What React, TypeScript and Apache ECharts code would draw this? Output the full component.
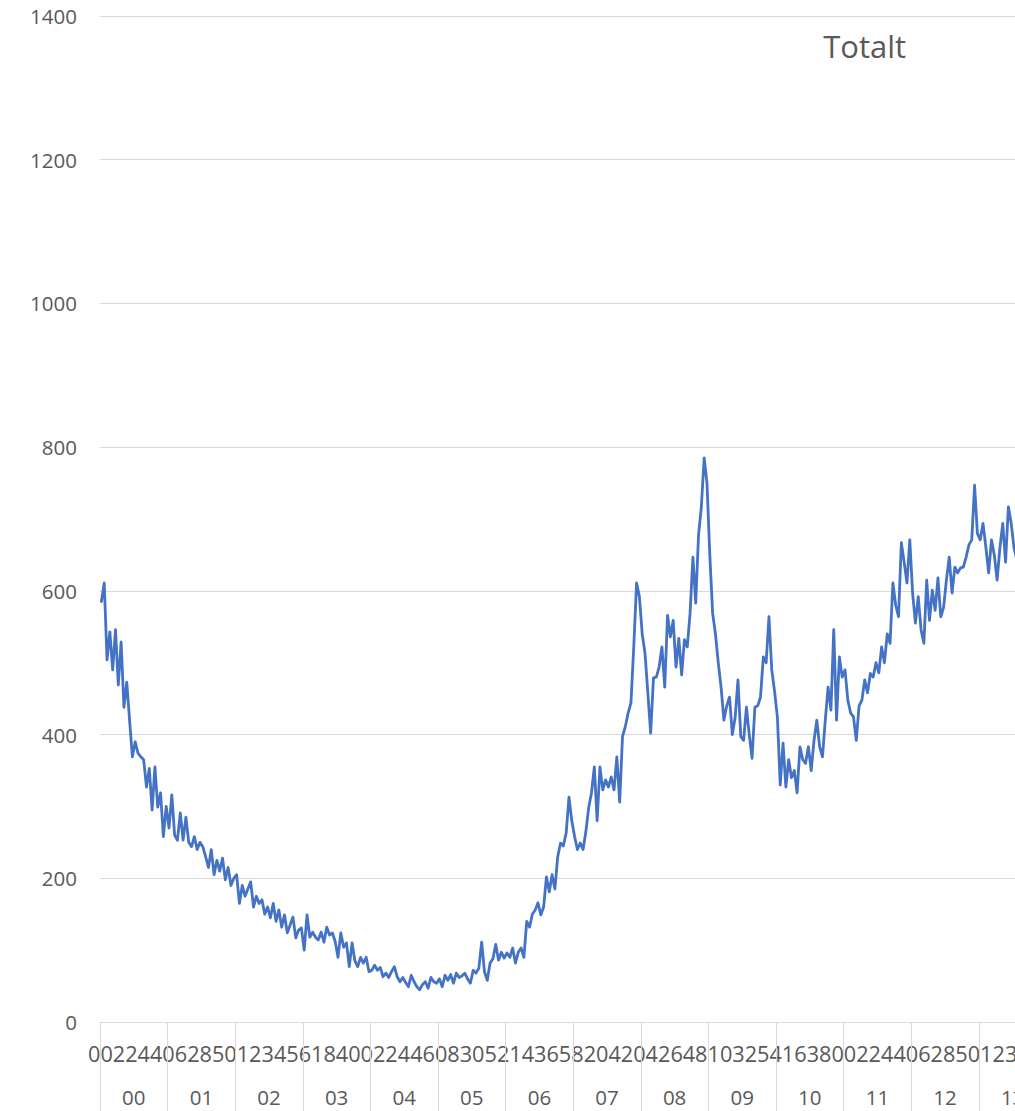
import React, { useEffect, useRef } from "react";
import * as echarts from "echarts";

// Year groups shown on the outer level of the category axis
const yearLabels = ["00", "01", "02", "03", "04", "05", "06", "07", "08", "09", "10", "11", "12", "13"];
const PER_YEAR = 24;

// Overlapping inner tick labels as they appear
const innerTickChunks = [
  "002244", "062850", "123456", "184002", "244608", "305214", "365820",
  "420426", "481032", "541638", "002244", "062850", "123",
];

// Series values per year
const y00 = [585, 611, 504, 543, 490, 546, 469, 529, 438, 473, 420, 369, 390, 374, 369, 365, 327, 353, 295, 355, 299, 319, 258, 300];
const y01 = [270, 316, 260, 253, 291, 253, 285, 250, 244, 258, 240, 250, 244, 230, 215, 240, 205, 225, 210, 228, 198, 215, 190, 200];
const y02 = [205, 165, 190, 175, 185, 195, 160, 175, 165, 170, 150, 160, 145, 165, 140, 156, 132, 149, 124, 135, 146, 117, 128, 131];
const y03 = [100, 149, 118, 125, 118, 114, 125, 111, 132, 121, 124, 112, 90, 124, 104, 110, 77, 110, 85, 77, 90, 82, 90, 70];
const y04 = [72, 79, 72, 76, 63, 68, 62, 70, 77, 63, 56, 62, 55, 49, 65, 56, 49, 45, 52, 56, 47, 62, 56, 54];
const y05 = [60, 49, 65, 58, 66, 54, 68, 62, 64, 68, 60, 54, 72, 68, 75, 111, 70, 58, 82, 88, 108, 86, 97, 89];
const y06 = [96, 90, 103, 82, 97, 103, 90, 140, 132, 150, 156, 166, 149, 160, 202, 181, 205, 185, 230, 249, 245, 263, 313, 280];
const y07 = [258, 240, 249, 240, 265, 298, 319, 355, 280, 355, 323, 337, 327, 341, 323, 369, 306, 397, 411, 430, 444, 522, 611, 592];
const y08 = [540, 513, 458, 402, 479, 480, 494, 522, 466, 566, 536, 559, 494, 534, 483, 532, 522, 569, 647, 583, 678, 717, 785, 750];
const y09 = [650, 569, 540, 500, 466, 420, 440, 452, 400, 424, 476, 397, 392, 438, 400, 367, 438, 440, 452, 508, 500, 564, 490, 460];
const y10 = [424, 330, 388, 327, 365, 340, 350, 319, 383, 365, 360, 383, 350, 392, 420, 383, 369, 420, 466, 434, 546, 420, 508, 480];
const y11 = [490, 448, 430, 425, 392, 440, 448, 476, 458, 485, 480, 500, 486, 522, 500, 540, 527, 611, 580, 564, 667, 640, 611, 671];
const y12 = [597, 555, 592, 546, 527, 615, 559, 601, 573, 618, 564, 577, 615, 647, 597, 633, 625, 632, 633, 647, 664, 671, 747, 680];
const y13 = [671, 694, 661, 625, 671, 650, 615, 660, 694, 640, 717, 694, 660, 643];

const yTicks = { min: 0, max: 1400, interval: 200 };
const title = "Totalt";

const TEXT = "#595959";
const GRID = "#d9d9d9";
const LINE = "#4472c4";
const FONT = '"Open Sans"';

export default function App() {
  const ref = useRef<HTMLDivElement>(null);

  useEffect(() => {
    if (!ref.current) return;
    const chart = echarts.init(ref.current, undefined, { renderer: "svg" });

    const values = [...y00, ...y01, ...y02, ...y03, ...y04, ...y05, ...y06, ...y07, ...y08, ...y09, ...y10, ...y11, ...y12, ...y13];
    const categories: string[] = [];
    yearLabels.forEach((yy) => {
      for (let j = 0; j < PER_YEAR; j++) categories.push(yy + "-" + j);
    });

    const charW = 12.39;
    const innerTexts = innerTickChunks.map((chunk, k) => ({
      type: "text",
      x: 88 + k * 6 * charW,
      y: 1053,
      style: {
        text: chunk,
        fontSize: 21.7,
        fontFamily: FONT,
        fill: TEXT,
        textAlign: "left",
        textVerticalAlign: "middle",
        align: "left",
        verticalAlign: "middle",
      },
    }));

    chart.setOption({
      animation: false,
      grid: { left: 100, right: 53.6, top: 16, bottom: 89 },
      xAxis: [
        {
          type: "category",
          data: categories,
          boundaryGap: true,
          axisLine: { show: true, lineStyle: { color: GRID, width: 1 } },
          axisTick: { show: false },
          axisLabel: { show: false },
          splitLine: { show: false },
        },
        {
          type: "category",
          data: yearLabels,
          boundaryGap: true,
          position: "bottom",
          axisLine: { show: false },
          axisTick: { show: true, interval: 0, length: 89, lineStyle: { color: GRID, width: 1 } },
          axisLabel: { show: true, interval: 0, margin: 64, color: TEXT, fontSize: 20.5, fontFamily: FONT },
          splitLine: { show: false },
        },
      ],
      yAxis: {
        type: "value",
        min: yTicks.min,
        max: yTicks.max,
        interval: yTicks.interval,
        axisLine: { show: false },
        axisTick: { show: false },
        axisLabel: {
          color: TEXT,
          fontSize: 20.5,
          fontFamily: FONT,
          margin: 23,
          formatter: (v: number) => String(v),
        },
        splitLine: { show: true, lineStyle: { color: GRID, width: 1.2 } },
      },
      graphic: [
        {
          type: "text",
          x: 864.7,
          y: 46,
          style: {
            text: title,
            fontSize: 31,
            fontFamily: FONT,
            fill: TEXT,
            textAlign: "center",
            textVerticalAlign: "middle",
            align: "center",
            verticalAlign: "middle",
          },
        },
        ...innerTexts,
      ],
      series: [
        {
          type: "line",
          xAxisIndex: 0,
          data: values,
          showSymbol: false,
          symbol: "none",
          lineStyle: { color: LINE, width: 2.8, join: "round", cap: "round" },
          itemStyle: { color: LINE },
        },
      ],
    });

    return () => chart.dispose();
  }, []);

  return (
    <div style={{ position: "fixed", left: 0, top: 0, width: 1015, height: 1111, overflow: "hidden", background: "#fff" }}>
      <div ref={ref} style={{ width: 1100, height: 1111 }} />
    </div>
  );
}
